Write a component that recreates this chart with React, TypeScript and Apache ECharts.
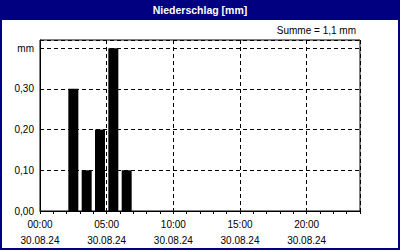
import React, { useEffect, useRef } from "react";
import * as echarts from "echarts";

const hourStarts = [2, 3, 4, 5, 6];
const precipitation = [0.3, 0.1, 0.2, 0.4, 0.1];
const xTickHours = [0, 5, 10, 15, 20];
const dateLabel = "30.08.24";
const titleText = "Niederschlag [mm]";
const sumText = "Summe = 1,1 mm";
const yUnit = "mm";

const FONT = "Liberation Sans";
const NAVY = "#000080";

export default function App() {
  const ref = useRef<HTMLDivElement>(null);
  useEffect(() => {
    if (!ref.current) return;
    const chart = echarts.init(ref.current, null, { renderer: "svg" });
    const data = hourStarts.map((h, i) => [h + 0.5, precipitation[i]]);
    chart.setOption({
      animation: false,
      backgroundColor: "#ffffff",
      textStyle: { fontFamily: FONT },
      grid: {
        left: 40,
        right: 40,
        top: 40,
        bottom: 39,
        show: true,
        borderColor: "#000",
        borderWidth: 1,
        backgroundColor: "transparent",
      },
      graphic: [
        {
          type: "rect",
          shape: { x: 0, y: 0, width: 400, height: 20 },
          style: { fill: NAVY },
          z: 10,
        },
        {
          type: "text",
          x: 200,
          y: 10,
          style: {
            text: titleText,
            fill: "#fff",
            font: `bold 10.5px "${FONT}"`,
            align: "center",
            verticalAlign: "middle",
          },
          z: 11,
        },
        {
          type: "text",
          x: 356,
          y: 30,
          style: {
            text: sumText,
            fill: "#000",
            font: `10px "${FONT}"`,
            align: "right",
            verticalAlign: "middle",
          },
          z: 11,
        },
        {
          type: "rect",
          shape: { x: 1, y: 1, width: 398, height: 248 },
          style: { fill: "none", stroke: NAVY, lineWidth: 2 },
          z: 12,
        },
      ],
      xAxis: [
        {
          type: "value",
          min: 0,
          max: 24,
          interval: 1,
          axisLine: { show: true, lineStyle: { color: "#000", width: 1 } },
          axisTick: { show: true, length: 3, inside: false, lineStyle: { color: "#000" } },
          axisLabel: { show: false },
          splitLine: { show: false },
        },
        {
          type: "value",
          min: 0,
          max: 24,
          interval: 5,
          position: "bottom",
          axisLine: { show: false },
          axisTick: { show: false },
          axisLabel: {
            show: true,
            margin: 5,
            color: "#000",
            fontFamily: FONT,
            fontSize: 10,
            lineHeight: 16,
            showMaxLabel: false,
            formatter: (v: number) =>
              xTickHours.includes(v)
                ? `${String(v).padStart(2, "0")}:00\n${dateLabel}`
                : "",
          },
          splitLine: {
            show: true,
            lineStyle: { color: "#000", type: [4, 3], width: 1 },
          },
        },
      ],
      yAxis: {
        type: "value",
        min: 0,
        max: 0.42,
        interval: 0.1,
        axisLine: { show: true, lineStyle: { color: "#000" } },
        axisTick: { show: false },
        axisLabel: {
          margin: 6,
          color: "#000",
          fontFamily: FONT,
          fontSize: 10,
          showMaxLabel: false,
          formatter: (v: number) => {
            const r = Math.round(v * 100) / 100;
            if (Math.abs(r - 0.4) < 1e-6) return yUnit;
            if (Math.abs(r * 10 - Math.round(r * 10)) > 1e-6) return "";
            return r.toFixed(2).replace(".", ",");
          },
        },
        splitLine: {
          show: true,
          lineStyle: { color: "#000", type: [4, 3], width: 1 },
        },
      },
      series: [
        {
          type: "bar",
          xAxisIndex: 0,
          data,
          barWidth: 10,
          itemStyle: { color: "#000" },
        },
      ],
    });
    return () => chart.dispose();
  }, []);
  return (
    <div
      ref={ref}
      style={{ position: "absolute", left: 0, top: 0, width: 400, height: 250 }}
    />
  );
}
